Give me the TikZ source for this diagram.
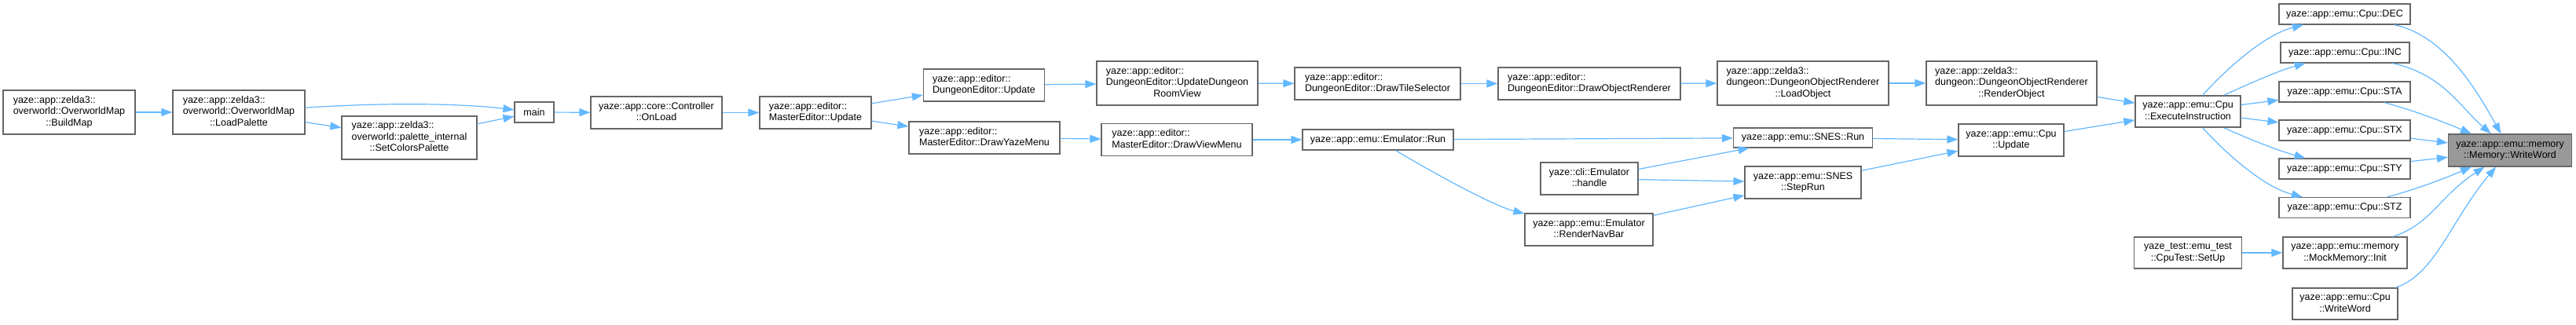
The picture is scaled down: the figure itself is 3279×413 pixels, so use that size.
\documentclass[tikz,border=0pt]{standalone}
\usepackage{fontspec}
\setmainfont{Liberation Sans}
\usetikzlibrary{arrows.meta}
\definecolor{edgeblue}{HTML}{63B8FF}
\definecolor{boxline}{HTML}{666666}
\definecolor{targetfill}{HTML}{999999}
\newcommand{\dl}[2]{\begin{tabular}{@{}l@{}}#1\\\multicolumn{1}{@{}c@{}}{#2}\end{tabular}}
\tikzset{
  box/.style={draw=boxline, fill=white, line width=1.2pt, inner sep=0pt, align=center,
    font=\fontsize{12.5}{14.5}\selectfont},
  target/.style={box, fill=targetfill},
  edge/.style={draw=edgeblue, line width=1.2pt, -{Triangle[length=14pt,width=10pt]}},
}
\begin{document}
\begin{tikzpicture}[x=1pt,y=-1pt]
\fill[white] (0,0) rectangle (3279,413);
\useasboundingbox (0,0) rectangle (3279,413);
% nodes
\node[box, minimum width=168pt, minimum height=56pt] (BM) at (88,143) {\dl{yaze::app::zelda3::\\overworld::OverworldMap}{::BuildMap}};
\node[box, minimum width=168pt, minimum height=56pt] (LP) at (304,143) {\dl{yaze::app::zelda3::\\overworld::OverworldMap}{::LoadPalette}};
\node[box, minimum width=172pt, minimum height=55pt] (SCP) at (521,175.5) {\dl{yaze::app::zelda3::\\overworld::palette\_internal}{::SetColorsPalette}};
\node[box, minimum width=50pt, minimum height=26pt] (MAIN) at (680,143) {main};
\node[box, minimum width=167pt, minimum height=41pt] (OL) at (835.5,143.5) {\dl{yaze::app::core::Controller}{::OnLoad}};
\node[box, minimum width=142pt, minimum height=41pt] (MU) at (1038,143.5) {\dl{yaze::app::editor::}{MasterEditor::Update}};
\node[box, minimum width=154pt, minimum height=41pt] (DEU) at (1252.5,108.5) {\dl{yaze::app::editor::}{DungeonEditor::Update}};
\node[box, minimum width=192pt, minimum height=41pt] (DYM) at (1253,175.5) {\dl{yaze::app::editor::}{MasterEditor::DrawYazeMenu}};
\node[box, minimum width=205pt, minimum height=56pt] (UDRV) at (1498.5,106) {\dl{yaze::app::editor::\\DungeonEditor::UpdateDungeon}{RoomView}};
\node[box, minimum width=192pt, minimum height=41pt] (DVM) at (1498,178) {\dl{yaze::app::editor::}{MasterEditor::DrawViewMenu}};
\node[box, minimum width=211pt, minimum height=41pt] (DTS) at (1753.5,106.5) {\dl{yaze::app::editor::}{DungeonEditor::DrawTileSelector}};
\node[box, minimum width=192pt, minimum height=26pt] (ER) at (1754,178) {yaze::app::emu::Emulator::Run};
\node[box, minimum width=232pt, minimum height=41pt] (DOR) at (2023,106.5) {\dl{yaze::app::editor::}{DungeonEditor::DrawObjectRenderer}};
\node[box, minimum width=124pt, minimum height=41pt] (HD) at (2023,227.5) {\dl{yaze::cli::Emulator}{::handle}};
\node[box, minimum width=163pt, minimum height=41pt] (RNB) at (2022.5,292.5) {\dl{yaze::app::emu::Emulator}{::RenderNavBar}};
\node[box, minimum width=218pt, minimum height=56pt] (LO) at (2295,106) {\dl{yaze::app::zelda3::\\dungeon::DungeonObjectRenderer}{::LoadObject}};
\node[box, minimum width=177pt, minimum height=25pt] (SR) at (2295,175.5) {yaze::app::emu::SNES::Run};
\node[box, minimum width=148pt, minimum height=41pt] (SSR) at (2295,232.5) {\dl{yaze::app::emu::SNES}{::StepRun}};
\node[box, minimum width=217pt, minimum height=56pt] (RO) at (2560.5,106) {\dl{yaze::app::zelda3::\\dungeon::DungeonObjectRenderer}{::RenderObject}};
\node[box, minimum width=134pt, minimum height=41pt] (CU) at (2560,178.5) {\dl{yaze::app::emu::Cpu}{::Update}};
\node[box, minimum width=134pt, minimum height=40pt] (EI) at (2785,142) {\dl{yaze::app::emu::Cpu}{::ExecuteInstruction}};
\node[box, minimum width=167pt, minimum height=26pt] (DEC) at (2984.5,18) {yaze::app::emu::Cpu::DEC};
\node[box, minimum width=164pt, minimum height=26pt] (INC) at (2985,67) {yaze::app::emu::Cpu::INC};
\node[box, minimum width=167pt, minimum height=26pt] (STA) at (2984.5,117) {yaze::app::emu::Cpu::STA};
\node[box, minimum width=167pt, minimum height=26pt] (STX) at (2984.5,166) {yaze::app::emu::Cpu::STX};
\node[box, minimum width=167pt, minimum height=26pt] (STY) at (2984.5,215) {yaze::app::emu::Cpu::STY};
\node[box, minimum width=167pt, minimum height=26pt] (STZ) at (2984.5,264.5) {yaze::app::emu::Cpu::STZ};
\node[box, minimum width=137pt, minimum height=40pt] (SU) at (2785,322) {\dl{yaze\_test::emu\_test}{::CpuTest::SetUp}};
\node[box, minimum width=158pt, minimum height=40pt] (MM) at (2985,322) {\dl{yaze::app::emu::memory}{::MockMemory::Init}};
\node[box, minimum width=134pt, minimum height=40pt] (CWW) at (2985,387) {\dl{yaze::app::emu::Cpu}{::WriteWord}};
\node[target, minimum width=157pt, minimum height=41pt] (T) at (3195,191.5) {\dl{yaze::app::emu::memory}{::Memory::WriteWord}};
% edges
\draw[edge] (BM) -- (LP);
\draw[edge] (LP) .. controls (480,131) and (580,131) .. (MAIN);
\draw[edge] (LP) -- (SCP);
\draw[edge] (SCP) -- (MAIN);
\draw[edge] (MAIN) -- (OL);
\draw[edge] (OL) -- (MU);
\draw[edge] (MU) -- (DEU);
\draw[edge] (MU) -- (DYM);
\draw[edge] (DEU) -- (UDRV);
\draw[edge] (DYM) -- (DVM);
\draw[edge] (UDRV) -- (DTS);
\draw[edge] (DTS) -- (DOR);
\draw[edge] (DOR) -- (LO);
\draw[edge] (LO) -- (RO);
\draw[edge] (RO) -- (EI);
\draw[edge] (DVM) -- (ER);
\draw[edge] (ER) -- (SR);
\draw[edge] (ER) .. controls (1817,216) and (1900,262) .. (RNB);
\draw[edge] (HD) -- (SR);
\draw[edge] (HD) -- (SSR);
\draw[edge] (RNB) -- (SSR);
\draw[edge] (SR) -- (CU);
\draw[edge] (SSR) -- (CU);
\draw[edge] (CU) -- (EI);
\draw[edge] (EI) .. controls (2830,92) and (2880,45) .. (DEC);
\draw[edge] (EI) .. controls (2860,108) and (2900,90) .. (INC);
\draw[edge] (EI) -- (STA);
\draw[edge] (EI) -- (STX);
\draw[edge] (EI) .. controls (2860,176) and (2900,192) .. (STY);
\draw[edge] (EI) .. controls (2830,192) and (2880,238) .. (STZ);
\draw[edge] (SU) -- (MM);
\draw[edge] (DEC) .. controls (3110,45) and (3150,110) .. (T);
\draw[edge] (INC) .. controls (3110,95) and (3130,135) .. (T);
\draw[edge] (STA) .. controls (3070,140) and (3110,155) .. (T);
\draw[edge] (STX) -- (T);
\draw[edge] (STY) -- (T);
\draw[edge] (STZ) .. controls (3070,243) and (3110,228) .. (T);
\draw[edge] (MM) .. controls (3095,285) and (3105,250) .. (T);
\draw[edge] (CWW) .. controls (3100,350) and (3120,280) .. (T);
\end{tikzpicture}
\end{document}
